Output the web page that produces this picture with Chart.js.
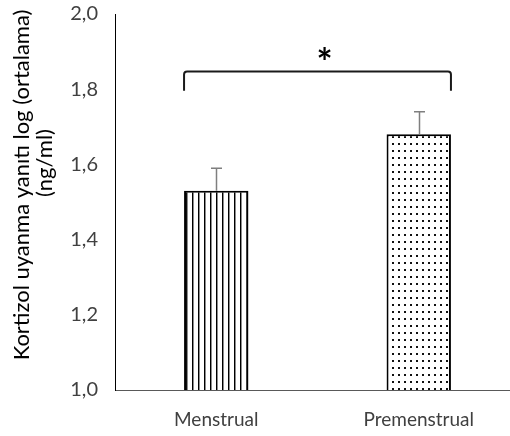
<!DOCTYPE html>
<html><head><meta charset="utf-8">
<script src="https://cdn.jsdelivr.net/npm/chart.js@4/dist/chart.umd.min.js"></script>
<style>html,body{margin:0;padding:0;background:#fff;overflow:hidden;width:510px;height:436px}
#wrap{position:relative;width:522px;height:436px}</style>
</head><body><div id="wrap"><canvas id="c" width="522" height="436"></canvas></div>
<script>
const categories = ['Menstrual', 'Premenstrual'];
const means = [1.53, 1.68];
const errUpper = [1.59, 1.74];
const yTickValues = [1.0, 1.2, 1.4, 1.6, 1.8, 2.0];
const yTickLabels = ['1,0', '1,2', '1,4', '1,6', '1,8', '2,0'];
const yTitle = ['Kortizol uyanma yanıtı log (ortalama)', '(ng/ml)'];
const sigFrom = 0, sigTo = 1;
const sigTop = 1.847, sigBottom = 1.796, sigLabelY = 1.895;
const sigLabel = '*';

const FONT = 'Lato';

function stripePattern() {
  const c = document.createElement('canvas'); c.width = 6; c.height = 4;
  const x = c.getContext('2d');
  x.fillStyle = '#fff'; x.fillRect(0, 0, 6, 4);
  x.fillStyle = '#000'; x.fillRect(0, 0, 1, 4);
  x.fillStyle = 'rgba(0,0,0,0.45)'; x.fillRect(1, 0, 1, 4);
  return document.getElementById('c').getContext('2d').createPattern(c, 'repeat');
}
function dotPattern() {
  const c = document.createElement('canvas'); c.width = 6; c.height = 7;
  const x = c.getContext('2d');
  x.fillStyle = '#fff'; x.fillRect(0, 0, 6, 7);
  x.fillStyle = '#111'; x.fillRect(2, 3, 2, 2);
  return document.getElementById('c').getContext('2d').createPattern(c, 'repeat');
}

const overlay = {
  id: 'overlay',
  afterDatasetsDraw(chart) {
    const ctx = chart.ctx;
    const y = chart.scales.y;
    const meta = chart.getDatasetMeta(0);
    ctx.save();
    ctx.strokeStyle = '#7f7f7f'; ctx.lineWidth = 1.5;
    errUpper.forEach((v, i) => {
      const bar = meta.data[i];
      const x = Math.round(bar.x) + 0.5;
      const yt = y.getPixelForValue(v), yb = y.getPixelForValue(means[i]);
      ctx.beginPath(); ctx.moveTo(x, yb); ctx.lineTo(x, yt);
      ctx.moveTo(x - 5.5, yt); ctx.lineTo(x + 5.5, yt); ctx.stroke();
    });
    const b0 = meta.data[sigFrom], b1 = meta.data[sigTo];
    const x0 = b0.x - b0.width / 2, x1 = b1.x + b1.width / 2;
    const yt = y.getPixelForValue(sigTop), yb = y.getPixelForValue(sigBottom);
    ctx.strokeStyle = '#1a1a1a'; ctx.lineWidth = 2;
    ctx.beginPath();
    ctx.moveTo(x0, yb); ctx.lineTo(x0, yt + 3); ctx.quadraticCurveTo(x0, yt, x0 + 3, yt);
    ctx.lineTo(x1 - 3, yt); ctx.quadraticCurveTo(x1, yt, x1, yt + 3); ctx.lineTo(x1, yb);
    ctx.stroke();
    ctx.fillStyle = '#000';
    ctx.font = 'bold 38px ' + FONT;
    ctx.textAlign = 'center'; ctx.textBaseline = 'middle';
    ctx.fillText(sigLabel, (x0 + x1) / 2 + 7, y.getPixelForValue(sigLabelY) + 10);
    ctx.restore();
  },
  afterDraw(chart) {
    const ctx = chart.ctx;
    ctx.save();
    ctx.fillStyle = '#000';
    ctx.font = '22px ' + FONT;
    ctx.textAlign = 'center'; ctx.textBaseline = 'alphabetic';
    const pos = [[29, 185], [52, 163]];
    yTitle.forEach((t, i) => {
      ctx.save();
      ctx.translate(pos[i][0], pos[i][1]);
      ctx.rotate(-Math.PI / 2);
      ctx.fillText(t, 0, 0);
      ctx.restore();
    });
    ctx.restore();
  }
};

new Chart(document.getElementById('c'), {
  type: 'bar',
  data: {
    labels: categories,
    datasets: [{
      data: means,
      backgroundColor: [stripePattern(), dotPattern()],
      borderColor: '#000',
      borderWidth: 2,
      borderSkipped: false,
      barPercentage: 0.318,
      categoryPercentage: 1
    }]
  },
  options: {
    responsive: false,
    animation: false,
    devicePixelRatio: 1,
    layout: { padding: { top: 14, right: 2, bottom: 0, left: 0 } },
    plugins: { legend: { display: false }, tooltip: { enabled: false } },
    scales: {
      x: {
        grid: { display: false, drawTicks: false, tickLength: 0 },
        border: { display: true, color: '#595959', width: 1 },
        ticks: { color: '#404040', font: { family: FONT, size: 19 }, padding: 18 },
        afterFit(s) { s.height = 46; s.paddingLeft = 0; s.paddingRight = 0; }
      },
      y: {
        min: 1.0, max: 2.0,
        grid: { display: false, drawTicks: false, tickLength: 0 },
        border: { display: true, color: '#000', width: 1 },
        afterBuildTicks(s) { s.ticks = yTickValues.map(v => ({ value: v })); },
        ticks: {
          color: '#404040', font: { family: FONT, size: 20 }, padding: 17,
          callback(v) { const i = yTickValues.findIndex(t => Math.abs(t - v) < 1e-9); return i >= 0 ? yTickLabels[i] : ''; }
        },
        title: { display: false },
        afterFit(s) { s.width = 115; s.paddingTop = 0; s.paddingBottom = 0; }
      }
    }
  },
  plugins: [overlay]
});
</script></body></html>
